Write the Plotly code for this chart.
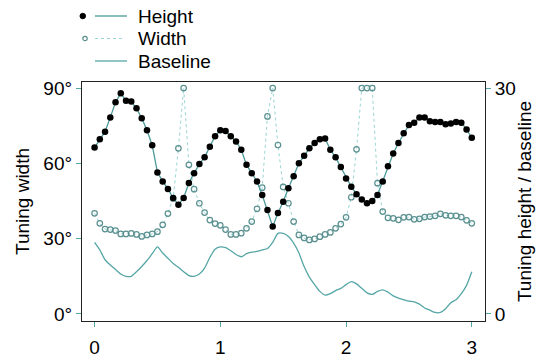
import plotly.graph_objects as go

# sample positions: 73 samples from 0 to 3 (step 1/24)
n_samples = 73
x_vals = [i / 24 for i in range(n_samples)]

# Tuning height (right axis units, 0-30)
height = [22.1, 23.2, 24.2, 26.1, 28.1, 29.3, 28.3, 28.2, 27.3, 26.0,
          24.4, 22.4, 18.8, 17.6, 16.6, 15.4, 14.5, 15.4, 17.4, 18.7,
          19.9, 20.8, 22.2, 23.6, 24.4, 24.3, 23.6, 22.9, 21.8, 19.8,
          18.7, 17.6, 15.8, 13.8, 11.6, 13.4, 14.9, 16.7, 18.3, 20.0,
          21.0, 22.0, 22.7, 23.2, 23.3, 21.8, 20.8, 19.5, 18.0, 16.9,
          15.9, 15.2, 14.7, 15.0, 15.8, 17.6, 19.6, 21.3, 22.7, 24.0,
          25.1, 25.4, 26.1, 26.1, 25.6, 25.5, 25.5, 25.2, 25.3, 25.5,
          25.4, 24.5, 23.4]

# Tuning width (degrees, left axis)
width = [40.1, 36.1, 33.8, 33.6, 33.2, 31.9, 31.9, 32.1, 31.7, 30.9,
         31.5, 31.9, 32.8, 35.5, 40.0, 46.0, 66.0, 90.0, 59.4, 49.7,
         44.1, 40.4, 37.4, 36.0, 35.3, 33.6, 31.7, 31.7, 32.2, 34.1,
         36.8, 41.9, 50.3, 78.7, 90.0, 67.3, 50.6, 44.1, 36.8, 31.5,
         30.3, 29.5, 29.9, 30.8, 31.7, 32.5, 34.1, 35.8, 38.5, 46.5,
         65.6, 90.0, 90.0, 90.0, 52.1, 40.8, 38.3, 38.1, 37.5, 38.5,
         38.6, 37.7, 37.9, 38.6, 38.8, 39.1, 39.9, 39.3, 39.1, 39.1,
         38.6, 37.3, 36.1]

# Baseline (right axis units, 0-30)
baseline = [9.5, 8.5, 7.2, 6.5, 5.9, 5.3, 5.0, 5.0, 5.6, 6.3,
            7.1, 8.0, 8.9, 8.1, 7.4, 6.7, 6.2, 5.6, 5.1, 5.0,
            5.3, 6.1, 7.5, 8.6, 8.9, 8.8, 8.4, 7.9, 7.6, 8.0,
            8.2, 8.3, 8.5, 8.7, 9.5, 10.7, 10.7, 10.3, 9.4, 8.1,
            6.3, 4.9, 3.9, 3.0, 2.5, 2.7, 3.1, 3.4, 3.9, 4.3,
            4.0, 3.4, 2.8, 2.6, 3.0, 3.2, 2.9, 2.4, 2.1, 1.9,
            1.7, 1.6, 1.3, 0.8, 0.5, 0.2, 0.2, 0.7, 1.5, 1.9,
            2.7, 3.8, 5.6]

x_ticks = [0, 1, 2, 3]
left_ticks = [0, 30, 60, 90]
left_ticktext = ["0°", "30°", "60°", "90°"]
right_ticks = [0, 30]
legend_labels = ["Height", "Width", "Baseline"]

TEAL = "#56a6a6"
FONT = "Liberation Sans, Arial, sans-serif"

fig = go.Figure()

fig.add_trace(go.Scatter(x=x_vals, y=baseline, yaxis="y2", mode="lines",
                         line=dict(color=TEAL, width=1.3, shape="spline", smoothing=0.6),
                         showlegend=False))
fig.add_trace(go.Scatter(x=x_vals, y=width, mode="lines+markers",
                         line=dict(color="#9ad4d4", width=1, dash="dot"),
                         marker=dict(symbol="circle-open", size=5.5, color="#5b9090",
                                     line=dict(width=1.2)),
                         showlegend=False))
fig.add_trace(go.Scatter(x=x_vals, y=height, yaxis="y2", mode="lines+markers",
                         line=dict(color="#4c9a9a", width=1.3),
                         marker=dict(size=6.5, color="black"),
                         showlegend=False))

# plot area in pixels
L, R, T, B = 82, 485, 82, 321
W, H = 537, 358


def px(xp):
    return (xp - L) / (R - L)


def py(yp):
    return (B - yp) / (B - T)


shapes = []
annotations = []
rows = [16, 38.5, 61]
# Height row
shapes.append(dict(type="circle", xref="paper", yref="paper",
                   x0=px(80), x1=px(85.5), y0=py(18.8), y1=py(13.3),
                   fillcolor="black", line=dict(color="black", width=1)))
shapes.append(dict(type="line", xref="paper", yref="paper",
                   x0=px(95), x1=px(127), y0=py(rows[0]), y1=py(rows[0]),
                   line=dict(color="#4c9a9a", width=1.3)))
# Width row
shapes.append(dict(type="circle", xref="paper", yref="paper",
                   x0=px(82.8), x1=px(87.2), y0=py(rows[1] + 2.2), y1=py(rows[1] - 2.2),
                   line=dict(color="#5b9090", width=1.2)))
shapes.append(dict(type="line", xref="paper", yref="paper",
                   x0=px(95), x1=px(124), y0=py(rows[1]), y1=py(rows[1]),
                   line=dict(color="#9ad4d4", width=1, dash="dot")))
# Baseline row
shapes.append(dict(type="line", xref="paper", yref="paper",
                   x0=px(95), x1=px(127), y0=py(rows[2]), y1=py(rows[2]),
                   line=dict(color=TEAL, width=1.3)))
for lab, ry in zip(legend_labels, rows):
    annotations.append(dict(text=lab, xref="paper", yref="paper",
                            x=px(136), y=py(ry), xanchor="left", yanchor="middle",
                            showarrow=False, font=dict(size=19, color="black", family=FONT)))

fig.update_layout(
    width=W, height=H,
    margin=dict(l=L, r=W - R, t=T, b=H - B, autoexpand=False),
    paper_bgcolor="white", plot_bgcolor="white",
    font=dict(family=FONT, size=19, color="black"),
    shapes=shapes, annotations=annotations,
    xaxis=dict(range=[-0.1, 3.105], tickvals=x_ticks, ticks="outside", ticklen=5,
               tickcolor=TEAL, showgrid=False, zeroline=False, showline=True,
               linecolor="#222", linewidth=1.3, mirror=True, ticklabelstandoff=4,
               automargin=False, tickfont=dict(size=19)),
    yaxis=dict(range=[-2.8, 92.4], tickvals=left_ticks, ticktext=left_ticktext,
               ticks="outside", ticklen=5, tickcolor=TEAL, showgrid=False,
               zeroline=False, showline=True, linecolor="#222", linewidth=1.3,
               mirror=True, automargin=False, tickfont=dict(size=19),
               title=dict(text="Tuning width", font=dict(size=19), standoff=8)),
    yaxis2=dict(range=[-2.8 / 3, 92.4 / 3], tickvals=right_ticks, overlaying="y",
                side="right", ticks="outside", ticklen=5, tickcolor=TEAL,
                showgrid=False, zeroline=False, showline=False, automargin=False,
                tickfont=dict(size=19),
                title=dict(text="Tuning height / baseline", font=dict(size=19), standoff=2)),
)

fig.write_html("out.html")
